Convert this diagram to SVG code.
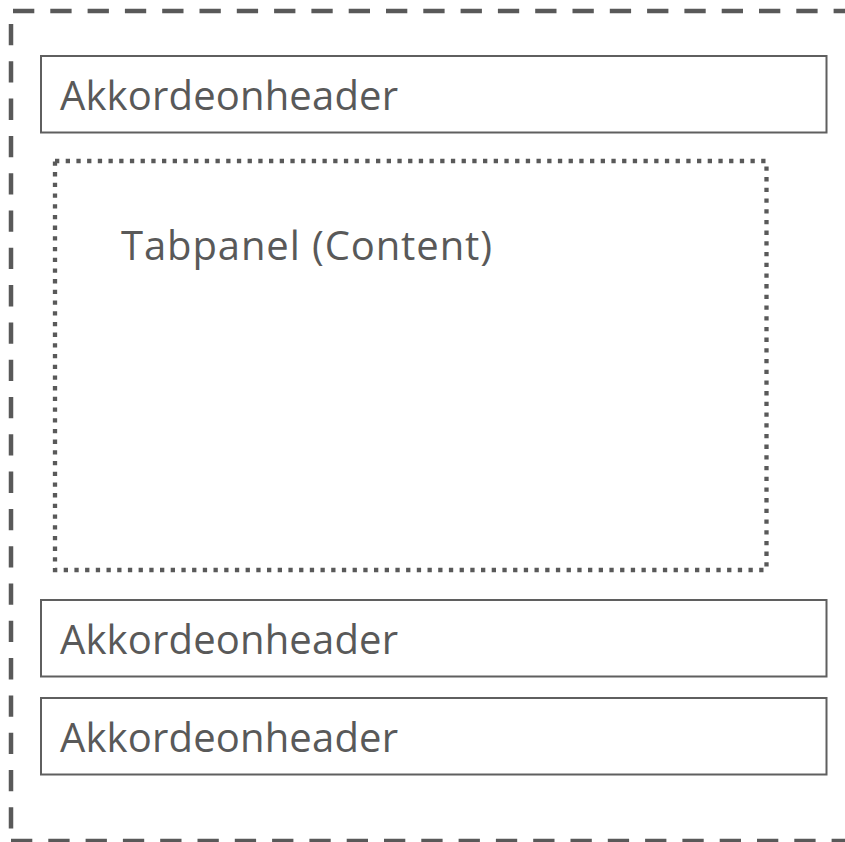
<svg xmlns="http://www.w3.org/2000/svg" width="845" height="842" viewBox="0 0 845 842">
<style>
.outer{fill:none;stroke:#595959;stroke-width:4.5;stroke-dasharray:21.3 16}
.hdr{fill:#ffffff;stroke:#5f5f5f;stroke-width:2}
.panel{fill:none;stroke:#595959;stroke-width:4.3;stroke-dasharray:4.3 6.4}
.lbl{font-family:"Open Sans","Liberation Sans",sans-serif;font-size:40px;fill:#595959}
</style>
<rect width="845" height="842" fill="#ffffff"/>
<g id="container">
<line class="outer" x1="13" y1="11" x2="845" y2="11"/>
<line class="outer" x1="11" y1="24" x2="11" y2="841"/>
<line class="outer" x1="11" y1="841" x2="845" y2="841"/>
</g>
<g id="header1">
<rect class="hdr" x="41" y="56" width="785.5" height="76.5"/>
<text class="lbl" x="60" y="109.5" textLength="338" lengthAdjust="spacing">Akkordeonheader</text>
</g>
<g id="tabpanel">
<rect class="panel" x="55" y="161" width="711.5" height="409"/>
<text class="lbl" x="121" y="260" textLength="371" lengthAdjust="spacing">Tabpanel (Content)</text>
</g>
<g id="header2">
<rect class="hdr" x="41" y="600" width="785.5" height="76.5"/>
<text class="lbl" x="60" y="653.5" textLength="338" lengthAdjust="spacing">Akkordeonheader</text>
</g>
<g id="header3">
<rect class="hdr" x="41" y="698" width="785.5" height="76.5"/>
<text class="lbl" x="60" y="751.5" textLength="338" lengthAdjust="spacing">Akkordeonheader</text>
</g>
<g id="connectors"/>
</svg>
